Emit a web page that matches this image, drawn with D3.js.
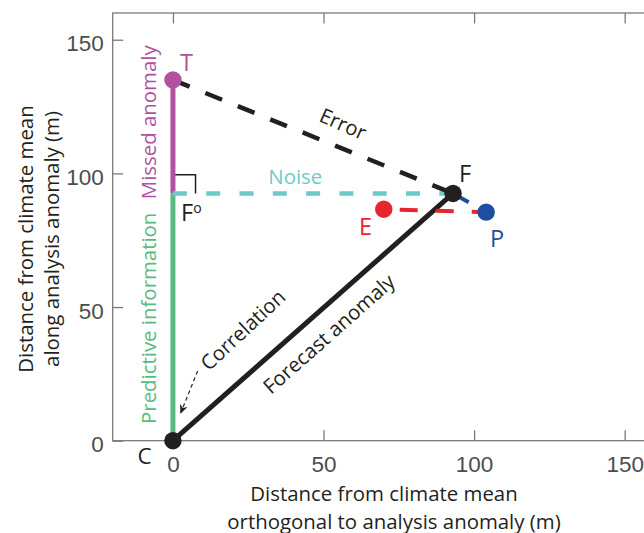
<!DOCTYPE html>
<html><head><meta charset="utf-8">
<script src="https://cdn.jsdelivr.net/npm/d3@7"></script>
<style>
html,body{margin:0;padding:0;background:#fff;}
svg{display:block;}
</style></head>
<body>
<svg id="chart" width="644" height="533"></svg>
<script>
// ---- data ----
const pointNames = ["C", "T", "F", "E", "P", "Fo"];
const pointX = [0, 0, 93, 70, 104, 0];
const pointY = [0, 135, 92.5, 86.6, 85.5, 92.5];
const dotNames = ["C", "T", "F", "E", "P"];
const segFrom = ["C", "Fo", "Fo", "T", "C", "E", "F"];
const segTo = ["Fo", "T", "F", "F", "F", "P", "P"];
const segNames = ["Predictive information", "Missed anomaly", "Noise", "Error", "Forecast anomaly", "", ""];
const xTicks = [0, 50, 100, 150];
const yTicks = [0, 50, 100, 150];
const xDomain = [-20, 160];
const yDomain = [0, 160];
const xTitle = ["Distance from climate mean", "orthogonal to analysis anomaly (m)"];
const yTitle = ["Distance from climate mean", "along analysis anomaly (m)"];
const arrowFrom = [8.2, 26.1];
const arrowTo = [2.6, 10.4];

// ---- styles ----
const COL = {
  black: "#231f20", magenta: "#b0529f", green: "#58bb80", cyan: "#6ccbc6",
  red: "#e6262d", blue: "#1f4ea0", axis: "#7a7a7a", tick: "#4d4d4d"
};
const segStyle = [
  {c: COL.green, w: 5, dash: null},
  {c: COL.magenta, w: 5, dash: null},
  {c: COL.cyan, w: 4.5, dash: "14,19.3", off: 0},
  {c: COL.black, w: 4.5, dash: "18,17", off: 0},
  {c: COL.black, w: 5, dash: null},
  {c: COL.red, w: 4, dash: "18,18", off: 20},
  {c: COL.blue, w: 4, dash: "18,22", off: 0}
];
const dotColor = {C: COL.black, T: COL.magenta, F: COL.black, E: COL.red, P: COL.blue};
const FONT = "'Open Sans', sans-serif";
const TICKFONT = "'Liberation Sans', Arial, sans-serif";

const svg = d3.select("#chart");
const x = d3.scaleLinear().domain(xDomain).range([112.7, 654.8]);
const y = d3.scaleLinear().domain(yDomain).range([440.7, 13.0]);
const P = name => { const i = pointNames.indexOf(name); return [pointX[i], pointY[i]]; };

// ---- box ----
svg.append("rect")
  .attr("x", x(xDomain[0])).attr("y", y(yDomain[1]))
  .attr("width", x(xDomain[1]) - x(xDomain[0]))
  .attr("height", y(yDomain[0]) - y(yDomain[1]))
  .attr("fill", "none").attr("stroke", COL.axis).attr("stroke-width", 1.3);

function styleAxis(g, showText) {
  g.select(".domain").remove();
  g.selectAll(".tick line").attr("stroke", COL.axis).attr("stroke-width", 1.3);
  g.selectAll(".tick text").attr("fill", COL.tick).style("font-family", TICKFONT).style("font-size", "22.5px");
  if (!showText) g.selectAll(".tick text").remove();
}
svg.append("g").attr("transform", `translate(0,${y(0)})`)
  .call(d3.axisBottom(x).tickValues(xTicks).tickSize(-10.5).tickPadding(15.5))
  .call(g => styleAxis(g, true));
svg.append("g").attr("transform", `translate(0,${y(yDomain[1])})`)
  .call(d3.axisTop(x).tickValues(xTicks).tickSize(-10.5))
  .call(g => styleAxis(g, false));
svg.append("g").attr("transform", `translate(${x(xDomain[0])},0)`)
  .call(d3.axisLeft(y).tickValues(yTicks).tickSize(-10.5).tickPadding(9))
  .call(g => { styleAxis(g, true); g.selectAll(".tick text").attr("dy", "11px"); });
svg.append("g").attr("transform", `translate(${x(xDomain[1])},0)`)
  .call(d3.axisRight(y).tickValues(yTicks).tickSize(-10.5))
  .call(g => styleAxis(g, false));

// ---- axis titles ----
const xt = svg.append("g").attr("font-family", FONT).attr("font-size", "20.4px").attr("fill", COL.black);
xt.append("text").attr("x", 384).attr("y", 501).attr("text-anchor", "middle").text(xTitle[0]);
xt.append("text").attr("x", 394).attr("y", 528.5).attr("text-anchor", "middle").text(xTitle[1]);
const yt = svg.append("g").attr("font-family", FONT).attr("font-size", "20.4px").attr("fill", COL.black);
yt.append("text").attr("transform", "translate(33,239) rotate(-90)").attr("text-anchor", "middle").text(yTitle[0]);
yt.append("text").attr("transform", "translate(59,239) rotate(-90)").attr("text-anchor", "middle").text(yTitle[1]);

// ---- right-angle marker at Fo ----
const fo = P("Fo");
svg.append("path")
  .attr("d", d3.line()([[x(fo[0]), y(fo[1] + 7)], [x(fo[0] + 7.5), y(fo[1] + 7)], [x(fo[0] + 7.5), y(fo[1])]]))
  .attr("fill", "none").attr("stroke", COL.black).attr("stroke-width", 1.5);

// ---- segments ----
segFrom.forEach((f, i) => {
  const a = P(f), b = P(segTo[i]), s = segStyle[i];
  const ln = svg.append("line")
    .attr("x1", x(a[0])).attr("y1", y(a[1])).attr("x2", x(b[0])).attr("y2", y(b[1]))
    .attr("stroke", s.c).attr("stroke-width", s.w);
  if (s.dash) ln.attr("stroke-dasharray", s.dash).attr("stroke-dashoffset", s.off);
});

// ---- correlation arrow ----
svg.append("defs").append("marker")
  .attr("id", "ah").attr("viewBox", "0 -5 10 10").attr("refX", 9).attr("refY", 0)
  .attr("markerWidth", 9).attr("markerHeight", 9).attr("markerUnits", "userSpaceOnUse").attr("orient", "auto")
  .append("path").attr("d", "M0,-4.5L10,0L0,4.5L3,0Z").attr("fill", COL.black);
svg.append("line")
  .attr("x1", x(arrowFrom[0])).attr("y1", y(arrowFrom[1]))
  .attr("x2", x(arrowTo[0])).attr("y2", y(arrowTo[1]))
  .attr("stroke", COL.black).attr("stroke-width", 1.2).attr("stroke-dasharray", "4,3")
  .attr("marker-end", "url(#ah)");

// ---- dots ----
dotNames.forEach(n => {
  const p = P(n);
  svg.append("circle").attr("cx", x(p[0])).attr("cy", y(p[1])).attr("r", 8.7).attr("fill", dotColor[n]);
});

// ---- point labels ----
const lab = svg.append("g").attr("font-family", FONT).attr("text-anchor", "middle");
const ptLabel = [
  {t: "T", x: 186.5, y: 71, c: COL.magenta, s: 23.5},
  {t: "F", x: 465, y: 182, c: COL.black, s: 23.5},
  {t: "E", x: 365.5, y: 235, c: COL.red, s: 23.5},
  {t: "P", x: 497, y: 246.5, c: COL.blue, s: 23.5},
  {t: "C", x: 144.5, y: 464, c: COL.black, s: 22.5}
];
ptLabel.forEach(d => lab.append("text").attr("x", d.x).attr("y", d.y).attr("fill", d.c)
  .style("font-size", d.s + "px").text(d.t));
const foT = svg.append("text").attr("font-family", FONT).attr("x", 181).attr("y", 220.5)
  .attr("fill", COL.black).style("font-size", "23.5px");
foT.append("tspan").text("F");
foT.append("tspan").attr("dy", -7.7).style("font-size", "14px").text("o");

// ---- segment labels ----
const sl = svg.append("g").attr("font-family", FONT).style("font-size", "20.4px").attr("text-anchor", "middle");
sl.append("text").attr("x", 295.3).attr("y", 184.3).attr("fill", COL.cyan).text(segNames[2]);
sl.append("text").attr("transform", "translate(155.6,122.3) rotate(-90)").attr("fill", COL.magenta).text(segNames[1]);
sl.append("text").attr("transform", "translate(155.6,318.3) rotate(-90)").attr("fill", COL.green).text(segNames[0]);
sl.append("text").attr("transform", "translate(343,124) rotate(24)").attr("dy", "0.35em").attr("fill", COL.black).text(segNames[3]);
sl.append("text").attr("transform", "translate(329,334) rotate(-41.5)").attr("dy", "0.35em").attr("fill", COL.black).text(segNames[4]);
sl.append("text").attr("transform", "translate(243,330) rotate(-43)").attr("dy", "0.35em").attr("fill", COL.black).text("Correlation");
</script>
</body></html>
